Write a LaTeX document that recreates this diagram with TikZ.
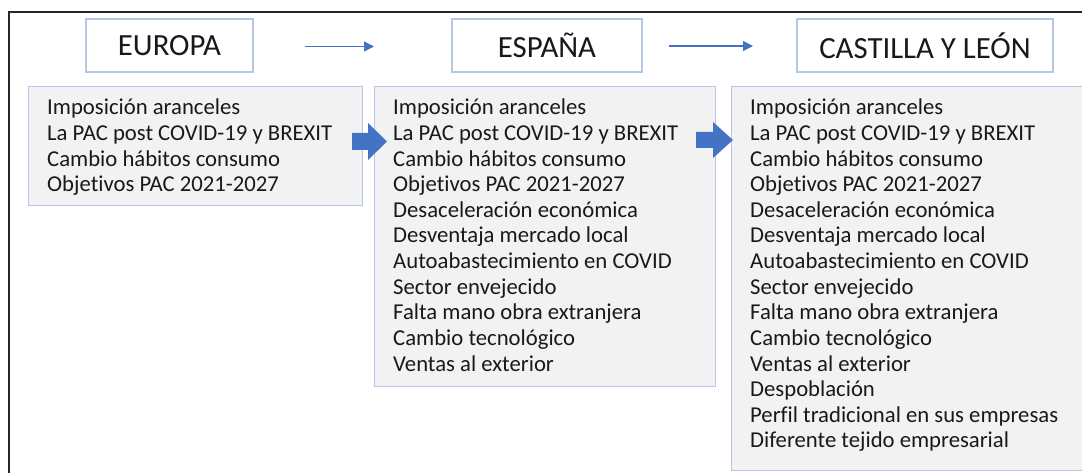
\documentclass[tikz,border=0pt]{standalone}
\usepackage{fontspec}
\setmainfont{Carlito}[RawFeature={-liga}]
\usetikzlibrary{arrows.meta}
\definecolor{boxline}{HTML}{B4C7E7}
\definecolor{boxfill}{HTML}{F2F2F2}
\definecolor{arrowblue}{HTML}{4472C4}
\begin{document}
\begin{tikzpicture}[x=1pt,y=-1pt,
  titlebox/.style={draw=boxline, line width=1.2pt, fill=white, inner sep=0pt,
    font=\fontsize{30.8}{33}\selectfont, text=black!90},
  listbox/.style={draw=boxline, line width=1.2pt, fill=boxfill, inner sep=0pt, anchor=north west},
  item/.style={anchor=base west, inner sep=0pt, font=\fontsize{22.7}{26}\selectfont, text=black!90},
  thinarrow/.style={draw=arrowblue, line width=1.3pt, -{Triangle[length=10pt,width=10pt]}},
  blockarrow/.style={fill=arrowblue}]
\useasboundingbox (0,0) rectangle (1082,473);
% outer frame
\draw[line width=1.4pt, black!85] (9,480) -- (9,12) -- (1090,12);
% title boxes
\node[titlebox, minimum width=167pt, minimum height=53pt] (eu) at (169.5,45.5) {EUROPA};
\node[titlebox, minimum width=190pt, minimum height=53pt] (es) at (547,45.5) {ESPAÑA};
\node[titlebox, minimum width=256pt, minimum height=53pt] (cyl) at (925,45.5) {CASTILLA Y LEÓN};
% thin arrows
\coordinate (a1s) at (305,46.5);
\coordinate (a1e) at (374,46.5);
\coordinate (a2s) at (669,46);
\coordinate (a2e) at (753,46);
\draw[thinarrow] (a1s) -- (a1e);
\draw[thinarrow] (a2s) -- (a2e);
% list boxes
\node[listbox, minimum width=334pt, minimum height=119pt] (eul) at (28,86) {};
\node[listbox, minimum width=341pt, minimum height=300pt] (esl) at (374,86) {};
\node[listbox, minimum width=370pt, minimum height=384pt] (cyll) at (731,86) {};
% items
\foreach \t [count=\i from 0] in {Imposición aranceles, La PAC post COVID-19 y BREXIT, Cambio hábitos consumo, Objetivos PAC 2021-2027}
  \node[item] (eu-\i) at (47,{115+25.6*\i}) {\t};
\foreach \t [count=\i from 0] in {Imposición aranceles, La PAC post COVID-19 y BREXIT, Cambio hábitos consumo, Objetivos PAC 2021-2027, Desaceleración económica, Desventaja mercado local, Autoabastecimiento en COVID, Sector envejecido, Falta mano obra extranjera, Cambio tecnológico, Ventas al exterior}
  \node[item] (es-\i) at (393,{115+25.6*\i}) {\t};
\foreach \t [count=\i from 0] in {Imposición aranceles, La PAC post COVID-19 y BREXIT, Cambio hábitos consumo, Objetivos PAC 2021-2027, Desaceleración económica, Desventaja mercado local, Autoabastecimiento en COVID, Sector envejecido, Falta mano obra extranjera, Cambio tecnológico, Ventas al exterior, Despoblación, Perfil tradicional en sus empresas, Diferente tejido empresarial}
  \node[item] (cyl-\i) at (750,{115+25.6*\i}) {\t};
% block arrows
\fill[blockarrow] (352,133) -- (368,133) -- (368,123) -- (387,141.5) -- (368,160) -- (368,150) -- (352,150) -- cycle;
\fill[blockarrow] (696,132) -- (713,132) -- (713,122) -- (733,140) -- (713,158) -- (713,148) -- (696,148) -- cycle;
\end{tikzpicture}
\end{document}
